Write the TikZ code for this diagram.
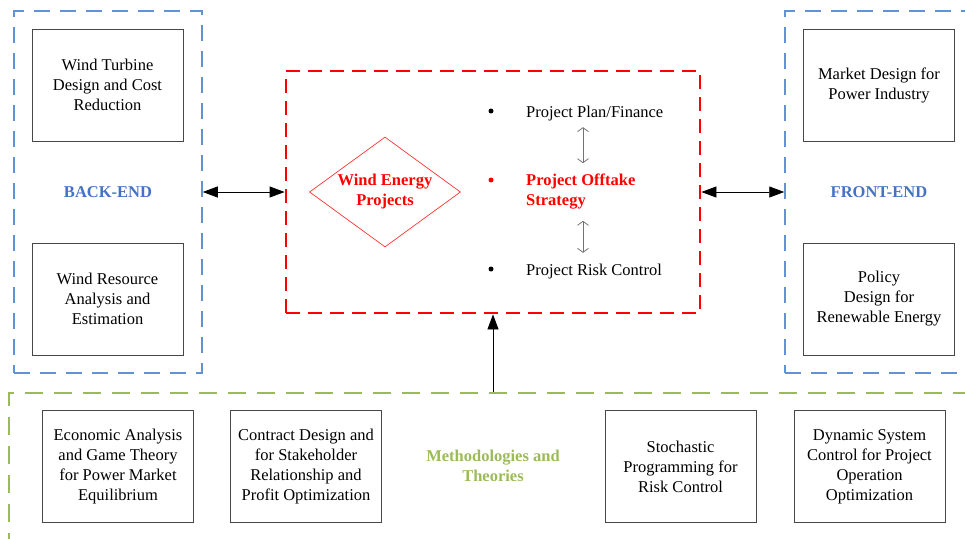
\documentclass[tikz,border=0pt]{standalone}
\usepackage{fontspec}
\setmainfont{Liberation Serif}
\usetikzlibrary{arrows.meta,shapes.geometric}
\definecolor{endblue}{RGB}{68,114,196}
\definecolor{dashblue}{RGB}{96,146,214}
\definecolor{methgreen}{RGB}{155,187,89}

\begin{document}
\begin{tikzpicture}
    [x=1pt, y=-1pt,
    every node/.style={font=\fontsize{16.5}{20}\selectfont, align=center},
    TopicBox/.style={rectangle, draw=black!72, line width=0.9pt, minimum width=151, minimum height=112, inner sep=2pt},
    SideGroup/.style={rectangle, draw=dashblue, line width=1.5pt, dash pattern=on 16pt off 10pt, minimum width=188, minimum height=362, text=endblue, font=\fontsize{16.5}{20}\selectfont\bfseries},
    CoreGroup/.style={rectangle, draw=red, line width=2.8pt, dash pattern=on 14pt off 8pt, minimum width=414, minimum height=242},
    MethodGroup/.style={rectangle, draw=methgreen, line width=2.5pt, dash pattern=on 18pt off 11pt, minimum width=1000, minimum height=180},
    GroupLabel/.style={text=methgreen, font=\fontsize{16.5}{20}\selectfont\bfseries},
    CoreDiamond/.style={diamond, draw=red!80, line width=0.7pt, aspect=1.37, minimum width=151, minimum height=110, inner sep=0pt, text=red, font=\fontsize{16.5}{20}\selectfont\bfseries},
    ItemText/.style={anchor=west, inner sep=0pt, align=left},
    ItemDot/.style={circle, fill=black, inner sep=0pt, minimum size=5},
    LinkArrow/.style={{Triangle[length=15pt,width=11pt]}-{Triangle[length=15pt,width=11pt]}, line width=0.8pt},
    ItemArrow/.style={{Straight Barb[length=4pt,width=11pt]}-{Straight Barb[length=4pt,width=11pt]}, draw=black!55, line width=0.8pt}]
     \useasboundingbox (0,0) rectangle (965,538);
     % dashed groups
     \node[SideGroup] (BackEnd) at (108,192){BACK-END};
     \node[SideGroup] (FrontEnd) at (879,192){FRONT-END};
     \node[CoreGroup] (ProjectCore) at (493,192){};
     \node[MethodGroup] (MethodArea) at (509,483){};
     \node[GroupLabel] (MethodLabel) at (493,466){Methodologies and\\Theories};
     % back-end topics
     \node[TopicBox] (TurbineBox) at (107.5,85){Wind Turbine\\Design and Cost\\Reduction};
     \node[TopicBox] (ResourceBox) at (107.5,299){Wind Resource\\Analysis and\\Estimation};
     % front-end topics
     \node[TopicBox] (MarketBox) at (879,85){Market Design for\\Power Industry};
     \node[TopicBox] (PolicyBox) at (879,299){Policy\\Design for\\Renewable Energy};
     % methods
     \node[TopicBox] (GameBox) at (118,466.5){Economic Analysis\\and Game Theory\\for Power Market\\Equilibrium};
     \node[TopicBox] (ContractBox) at (306,466.5){Contract Design and\\for Stakeholder\\Relationship and\\Profit Optimization};
     \node[TopicBox] (StochasticBox) at (680.5,466.5){Stochastic\\Programming for\\Risk Control};
     \node[TopicBox] (DynamicBox) at (869.5,466.5){Dynamic System\\Control for Project\\Operation\\Optimization};
     % project core
     \node[CoreDiamond] (WindProjects) at (385,192){Wind Energy\\Projects};
     \node[ItemDot] (PlanDot) at (491,111){};
     \node[ItemDot, fill=red] (OfftakeDot) at (491,180){};
     \node[ItemDot] (RiskDot) at (491,269){};
     \node[ItemText] (PlanItem) at (526,114){Project Plan/Finance};
     \node[ItemText, text=red, font=\fontsize{16.5}{20}\selectfont\bfseries] (OfftakeItem) at (526,192){Project Offtake\\Strategy};
     \node[ItemText] (RiskItem) at (526,272){Project Risk Control};
     \coordinate (ItemAxis) at (583,0);
     \draw[ItemArrow, shorten <=5.5pt, shorten >=11pt] (PlanItem.south -| ItemAxis) -- (OfftakeItem.north -| ItemAxis);
     \draw[ItemArrow, shorten <=11pt, shorten >=11.5pt] (OfftakeItem.south -| ItemAxis) -- (RiskItem.north -| ItemAxis);
     % links
     \draw[LinkArrow] (BackEnd.east) -- (ProjectCore.west);
     \draw[LinkArrow] (ProjectCore.east) -- (FrontEnd.west);
     \draw[-{Triangle[length=15pt,width=11pt]}, line width=0.8pt] (MethodArea.north -| ProjectCore.south) -- (ProjectCore.south);
\end{tikzpicture}
\end{document}
